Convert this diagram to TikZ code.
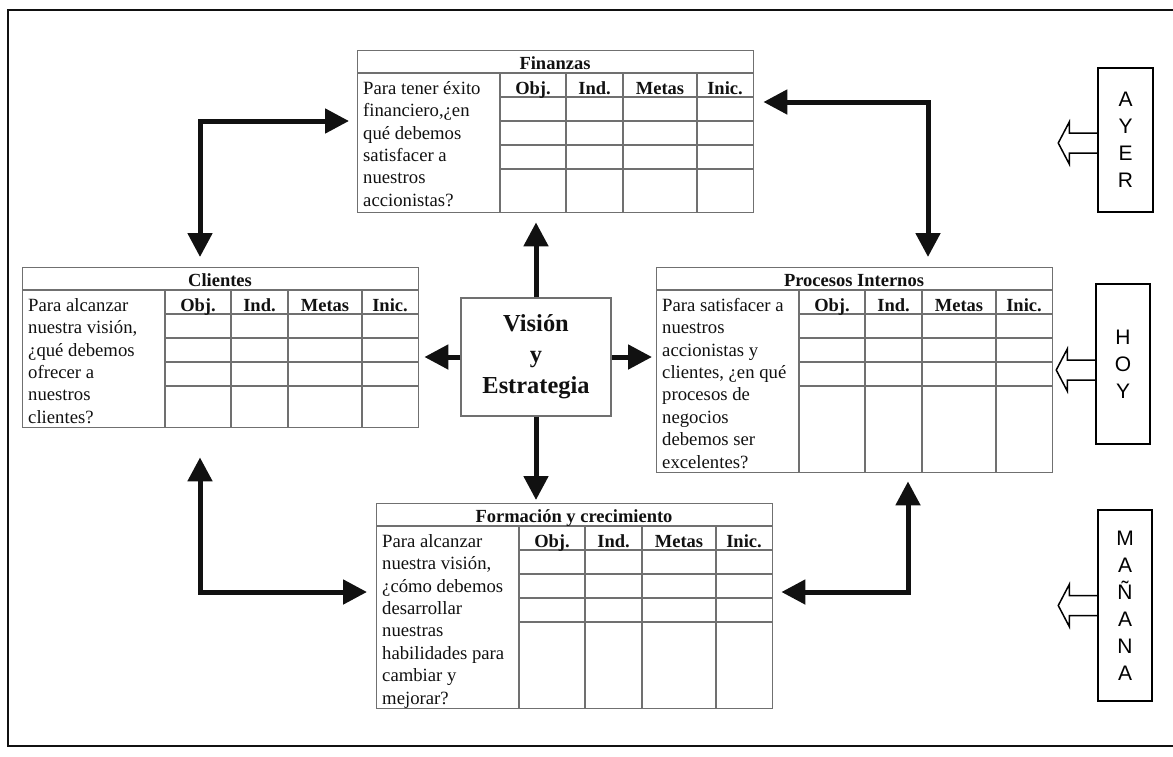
\documentclass[tikz,border=0pt]{standalone}
\usepackage{fontspec}
\setmainfont{Liberation Serif}
\setsansfont{Liberation Sans}
\usetikzlibrary{arrows.meta}

\definecolor{ink}{HTML}{111111}
\definecolor{gridgray}{HTML}{707070}

\tikzset{
  tbl/.style={draw=gridgray, line width=1.4pt, inner sep=0pt,
              minimum width=396pt, anchor=north west},
  gl/.style={draw=gridgray, line width=1.3pt},
  ttl/.style={font=\bfseries\fontsize{18.5}{22}\selectfont, text=ink,
              inner sep=0pt, anchor=base},
  qtext/.style={font=\fontsize{18.7}{22.4}\selectfont, text=ink, align=left,
                inner sep=0pt, anchor=north west},
  vbox/.style={draw=gridgray, line width=1.4pt, minimum width=150pt,
               minimum height=118pt, align=center, text=ink,
               font=\bfseries\fontsize{24.4}{31}\selectfont},
  bigarrow/.style={draw=ink, line width=5pt, -{Triangle[length=24pt,width=24pt]}},
  biarrow/.style={draw=ink, line width=5pt,
                  {Triangle[length=24pt,width=24pt]}-{Triangle[length=24pt,width=24pt]}},
  timebox/.style={draw=black, line width=1.5pt, align=center, inner sep=0pt,
                  font=\sffamily\fontsize{21}{27}\selectfont},
  hollow/.style={draw=black, line width=1.5pt, line join=miter},
  frame/.style={draw=ink, line width=2pt}
}

% One perspective table: #1 name, #2 x, #3 y (top left), #4 height,
% #5 title, #6 guiding question
\newcommand{\bsctable}[6]{%
  \node[tbl, minimum height=#4pt] (#1) at (#2,#3) {};
  \begin{scope}[shift={(#2,#3)}]
    \draw[gl] (0,23) -- (396,23);
    \foreach \r in {47,71,95,119} \draw[gl] (143,\r) -- (396,\r);
    \foreach \c in {143,209,266,340} \draw[gl] (\c,23) -- (\c,#4);
    \node[ttl] (#1-title) at (198,19.5) {#5};
    \node[ttl] (#1-obj)   at (176,44) {Obj.};
    \node[ttl] (#1-ind)   at (237.5,44) {Ind.};
    \node[ttl] (#1-met)   at (303,44) {Metas};
    \node[ttl] (#1-ini)   at (368,44) {Inic.};
    \node[qtext] (#1-q) at (6,30) {\rule{0pt}{14pt}#6};
  \end{scope}}

% Outlined arrow leaving a time box to the left; #2 = vertical offset
\newcommand{\hollowarrow}[2]{%
  \begin{scope}[shift={(#1.west)}]
    \draw[hollow] (0,#2-10) -- (-28,#2-10) -- (-28,#2-21) -- (-39,#2)
      -- (-28,#2+21) -- (-28,#2+10) -- (0,#2+10);
  \end{scope}}

\begin{document}
\begin{tikzpicture}[x=1pt, y=-1pt]
  \useasboundingbox (0,0) rectangle (1173,756);
  % outer frame, its right side runs past the page edge
  \draw[frame] (8,10) rectangle (1180,746);

  % the four perspectives
  \bsctable{fin}{357}{50}{162}{Finanzas}{Para tener éxito\\financiero,¿en\\qué debemos\\satisfacer a\\nuestros\\accionistas?}
  \bsctable{cli}{22}{267}{160}{Clientes}{Para alcanzar\\nuestra visión,\\¿qué debemos\\ofrecer a\\nuestros\\clientes?}
  \bsctable{pro}{656}{267}{205}{Procesos Internos}{Para satisfacer a\\nuestros\\accionistas y\\clientes, ¿en qué\\procesos de\\negocios\\debemos ser\\excelentes?}
  \bsctable{for}{376}{503}{205}{Formación y crecimiento}{Para alcanzar\\nuestra visión,\\¿cómo debemos\\desarrollar\\nuestras\\habilidades para\\cambiar y\\mejorar?}

  % vision and strategy at the centre
  \node[vbox] (vis) at (536,357) {Visión\\y\\Estrategia};

  \draw[bigarrow] (vis.north) -- ([yshift=-9pt]vis.north |- fin.south);
  \draw[bigarrow] (vis.south) -- ([yshift=3pt]vis.south |- for.north);
  \draw[bigarrow] (vis.west)  -- ([xshift=5pt]cli.east |- vis.west);
  \draw[bigarrow] (vis.east)  -- ([xshift=-4pt]pro.west |- vis.east);

  % links between neighbouring perspectives
  \coordinate (ctl) at (200,121);
  \coordinate (ctr) at (928,102);
  \coordinate (cbl) at (200,592);
  \coordinate (cbr) at (908,592);
  \draw[biarrow] ([xshift=-8pt]fin.west |- ctl) -| ([yshift=10pt]cli.north -| ctl);
  \draw[biarrow] ([xshift=9pt]fin.east |- ctr) -| ([yshift=10pt]pro.north -| ctr);
  \draw[biarrow] ([yshift=-29pt]cli.south -| cbl) |- ([xshift=-9pt]for.west |- cbl);
  \draw[biarrow] ([yshift=-8pt]pro.south -| cbr) |- ([xshift=8pt]for.east |- cbr);

  % time markers on the right
  \node[timebox, minimum width=55pt, minimum height=144pt] (ayer) at (1125.5,140) {A\\Y\\E\\R};
  \node[timebox, minimum width=54pt, minimum height=160pt] (hoy) at (1123,364) {H\\O\\Y};
  \node[timebox, minimum width=54pt, minimum height=191pt] (manana) at (1125,605.5) {M\\A\\Ñ\\A\\N\\A};
  \hollowarrow{ayer}{3}
  \hollowarrow{hoy}{6}
  \hollowarrow{manana}{0}
\end{tikzpicture}
\end{document}
